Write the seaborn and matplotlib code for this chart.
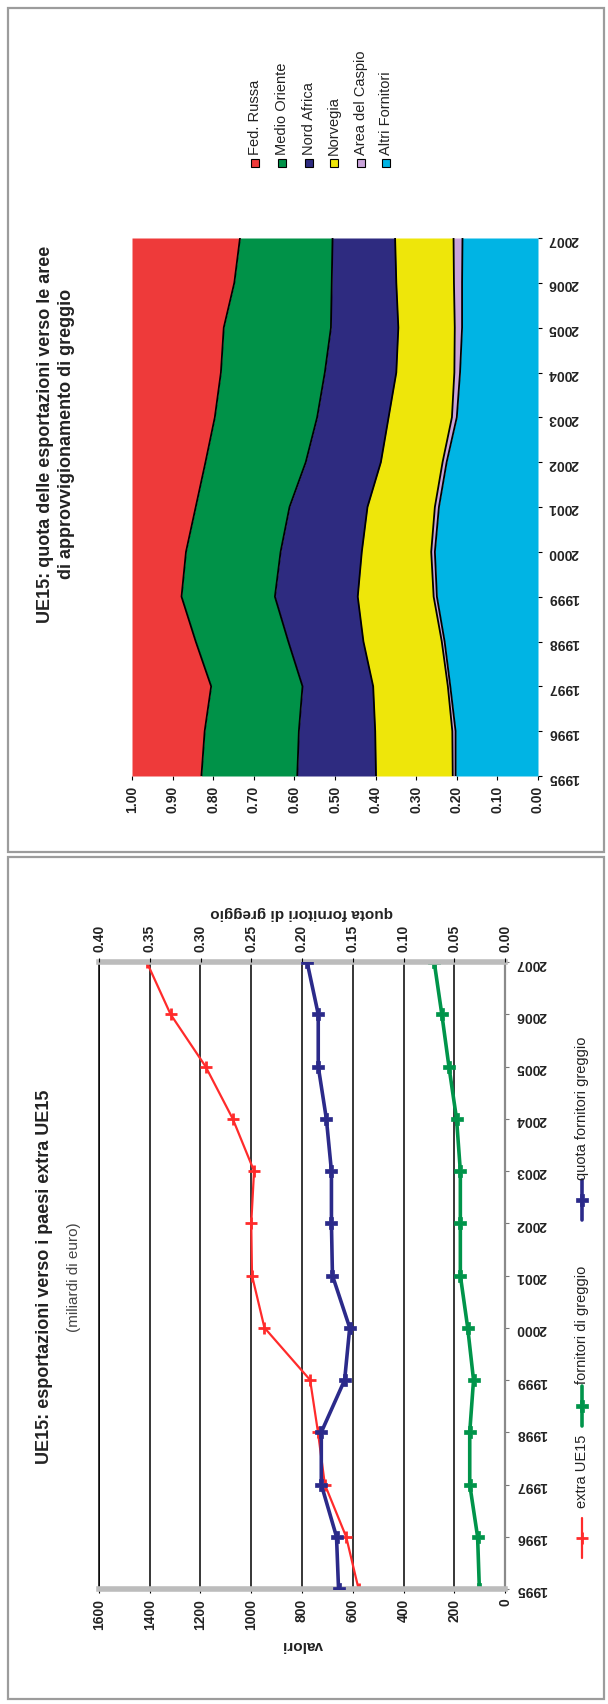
import numpy as np
import pandas as pd
import matplotlib
matplotlib.use("Agg")
import matplotlib.pyplot as plt
import seaborn as sns
from matplotlib.lines import Line2D
from matplotlib.patches import Rectangle

# ---------------- data ----------------
years = list(range(1995, 2008))

# line chart (miliardi di euro) and share
extra_ue15 = [577, 626, 710, 737, 768, 948, 997, 1000, 989, 1073, 1180, 1318, 1412]
fornitori_greggio = [101, 108, 139, 139, 124, 147, 176, 176, 176, 191, 221, 249, 279]
quota_fornitori = [0.164, 0.166, 0.181, 0.181, 0.158, 0.153, 0.170, 0.171, 0.171, 0.176, 0.184, 0.184, 0.195]
line_labels = ["extra UE15", "fornitori di greggio", "quota fornitori greggio"]
value_ticks = [0, 200, 400, 600, 800, 1000, 1200, 1400, 1600]
share_ticks = [0.00, 0.05, 0.10, 0.15, 0.20, 0.25, 0.30, 0.35, 0.40]

# stacked area shares (bottom -> top)
altri_fornitori = [0.203, 0.203, 0.216, 0.230, 0.249, 0.254, 0.244, 0.225, 0.200, 0.192, 0.187, 0.187, 0.186]
area_caspio = [0.007, 0.008, 0.006, 0.007, 0.008, 0.009, 0.010, 0.010, 0.012, 0.014, 0.018, 0.020, 0.022]
norvegia = [0.189, 0.190, 0.184, 0.193, 0.187, 0.171, 0.166, 0.152, 0.156, 0.143, 0.139, 0.142, 0.144]
nord_africa = [0.194, 0.188, 0.174, 0.185, 0.204, 0.200, 0.192, 0.185, 0.176, 0.176, 0.166, 0.159, 0.154]
medio_oriente = [0.236, 0.232, 0.225, 0.228, 0.230, 0.233, 0.231, 0.247, 0.252, 0.256, 0.264, 0.240, 0.228]
fed_russa = [0.171, 0.179, 0.195, 0.157, 0.122, 0.133, 0.157, 0.181, 0.204, 0.219, 0.226, 0.252, 0.266]
area_labels = ["Fed. Russa", "Medio Oriente", "Nord Africa", "Norvegia", "Area del Caspio", "Altri Fornitori"]
area_ticks = [0.0, 0.1, 0.2, 0.3, 0.4, 0.5, 0.6, 0.7, 0.8, 0.9, 1.0]

# ---------------- style ----------------
sns.set_style("white")
plt.rcParams['font.family'] = ['Liberation Sans', 'DejaVu Sans']

W, H = 608, 1704
fig = plt.figure(figsize=(W / 100, H / 100), dpi=100)
fig.patch.set_facecolor("white")

TICK_FS = 10
TXT = "#222222"


def fx(px):
    return px / W


def fy(py):
    return 1 - py / H


# panel frames
for (x0, y0, x1, y1) in [(8, 8, 604, 852), (8, 857, 604, 1699)]:
    fig.add_artist(Rectangle((fx(x0), fy(y1)), fx(x1) - fx(x0), fy(y0) - fy(y1),
                             transform=fig.transFigure, fill=False, ec="#9c9c9c", lw=1.6))

# ================= stacked area chart (top panel) =================
area_series = [altri_fornitori, area_caspio, norvegia, nord_africa, medio_oriente, fed_russa]
area_colors = ["#00B4E4", "#C9A3DA", "#EEE60A", "#2E2B80", "#009248", "#EE3A3A"]
axA = fig.add_axes([fx(132), fy(776), (538 - 132) / W, (776 - 238) / H])
cum = np.zeros(len(years))
bounds = []
for vals, col in zip(area_series, area_colors):
    upper = cum + np.array(vals)
    axA.fill_betweenx(years, cum, upper, color=col, lw=0)
    bounds.append(upper.copy())
    cum = upper
for b in bounds[:-1]:
    sns.lineplot(x=b, y=years, orient="y", color="black", lw=1.3, ax=axA,
                 errorbar=None, legend=False)
axA.set_xlim(1.0, 0.0)
axA.set_ylim(1995, 2007)
axA.set_xticks(area_ticks)
axA.set_xticklabels([f"{v:.2f}" for v in area_ticks], rotation=90, fontsize=TICK_FS,
                    fontweight="bold", color=TXT)
axA.set_yticks(years)
axA.yaxis.tick_right()
axA.set_yticklabels([str(y) for y in years], rotation=180, fontsize=TICK_FS,
                    fontweight="bold", color=TXT)
axA.tick_params(axis="x", bottom=True, direction="out", length=3, width=0.8, pad=4, color="black")
axA.tick_params(axis="y", right=True, left=False, labelright=True, labelleft=False,
                direction="out", length=3, width=0.8, pad=4, color="black")
axA.set_xlabel("")
axA.set_ylabel("")
for s in axA.spines.values():
    s.set_visible(False)

fig.text(fx(56), fy(434), "UE15: quota delle esportazioni verso le aree\ndi approvvigionamento di greggio",
         rotation=90, ha="center", va="center", fontsize=13, fontweight="bold", linespacing=1.3,
         color=TXT)

# area legend
leg_x = [255, 282, 309, 334, 361, 386]
leg_cols = ["#EE3A3A", "#009248", "#2E2B80", "#EEE60A", "#C9A3DA", "#00B4E4"]
for xp, lab, col in zip(leg_x, area_labels, leg_cols):
    fig.add_artist(Rectangle((fx(xp - 4), fy(167)), 8 / W, 8 / H, transform=fig.transFigure,
                             fc=col, ec="black", lw=0.8))
    fig.text(fx(xp), fy(155), lab, rotation=90, ha="center", va="bottom", fontsize=10.5, color=TXT)

# ================= line chart (bottom panel) =================
axL = fig.add_axes([fx(99), fy(1589), (505 - 99) / W, (1589 - 962) / H])
red, green, blue = "#FF2B2B", "#00944A", "#2B2A8A"
sns.lineplot(x=extra_ue15, y=years, orient="y", ax=axL, color=red, lw=1.6, marker="+",
             markersize=8, markeredgewidth=2, markeredgecolor=red, errorbar=None, legend=False)
sns.lineplot(x=fornitori_greggio, y=years, orient="y", ax=axL, color=green, lw=2.6, marker="P",
             markersize=8, markeredgewidth=0.5, markeredgecolor=green, errorbar=None, legend=False)
axL.set_xlim(1600, 0)
axL.set_ylim(1995, 2007)
axL.set_xticks(value_ticks)
axL.set_xticklabels([str(v) for v in value_ticks], rotation=90, fontsize=TICK_FS,
                    fontweight="bold", color=TXT)
axL.set_yticks(years)
axL.yaxis.tick_right()
axL.set_yticklabels([str(y) for y in years], rotation=180, fontsize=TICK_FS,
                    fontweight="bold", color=TXT)
axL.tick_params(axis="x", bottom=True, direction="out", length=3, width=0.8, pad=4, color="black")
axL.tick_params(axis="y", right=True, left=False, labelright=True, labelleft=False,
                direction="out", length=3, width=0.8, pad=5, color="#777777")
axL.grid(axis="x", color="black", lw=1.1)
axL.grid(axis="y", visible=False)
axL.set_axisbelow(True)
axL.set_ylabel("")
axL.set_xlabel("valori", rotation=180, fontsize=11, fontweight="bold", labelpad=6, color=TXT)
for side in ["top", "bottom"]:
    axL.spines[side].set_color("#bcbcbc")
    axL.spines[side].set_linewidth(4)
axL.spines["left"].set_color("black")
axL.spines["left"].set_linewidth(1.1)
axL.spines["right"].set_color("#8a8a8a")
axL.spines["right"].set_linewidth(1.6)

ax2 = axL.twiny()
sns.lineplot(x=quota_fornitori, y=years, orient="y", ax=ax2, color=blue, lw=2.6, marker="P",
             markersize=8, markeredgewidth=0.5, markeredgecolor=blue, errorbar=None, legend=False)
ax2.set_xlim(0.40, 0.0)
ax2.set_ylim(1995, 2007)
ax2.set_xticks(share_ticks)
ax2.set_xticklabels([f"{v:.2f}" for v in share_ticks], rotation=90, fontsize=TICK_FS,
                    fontweight="bold", color=TXT)
ax2.tick_params(axis="x", top=True, direction="out", length=3, width=0.8, pad=4, color="black")
ax2.set_xlabel("quota fornitori di greggio", rotation=180, fontsize=11, fontweight="bold",
               labelpad=6, color=TXT)
ax2.set_ylabel("")
for s in ax2.spines.values():
    s.set_visible(False)

fig.text(fx(45), fy(1277), "UE15: esportazioni verso i paesi extra UE15", rotation=90,
         ha="center", va="center", fontsize=13, fontweight="bold", color=TXT)
fig.text(fx(74), fy(1277), "(miliardi di euro)", rotation=90, ha="center", va="center",
         fontsize=11, color="#444444")

# line legend (vertical)
leg_items = [(line_labels[0], red, "+", 1.6, 1538, 1508),
             (line_labels[1], green, "P", 2.6, 1406, 1384),
             (line_labels[2], blue, "P", 2.6, 1200, 1180)]
for lab, col, mk, lw, ym, yt in leg_items:
    fig.add_artist(Line2D([fx(582), fx(582)], [fy(ym + 20), fy(ym - 20)], transform=fig.transFigure,
                          color=col, lw=lw))
    fig.add_artist(Line2D([fx(582)], [fy(ym)], transform=fig.transFigure, color=col, marker=mk,
                          markersize=8, markeredgewidth=2 if mk == "+" else 0.5, markeredgecolor=col))
    fig.text(fx(582), fy(yt), lab, rotation=90, ha="center", va="bottom", fontsize=10.5, color=TXT)

fig.savefig("out.png", dpi=100, facecolor="white")
